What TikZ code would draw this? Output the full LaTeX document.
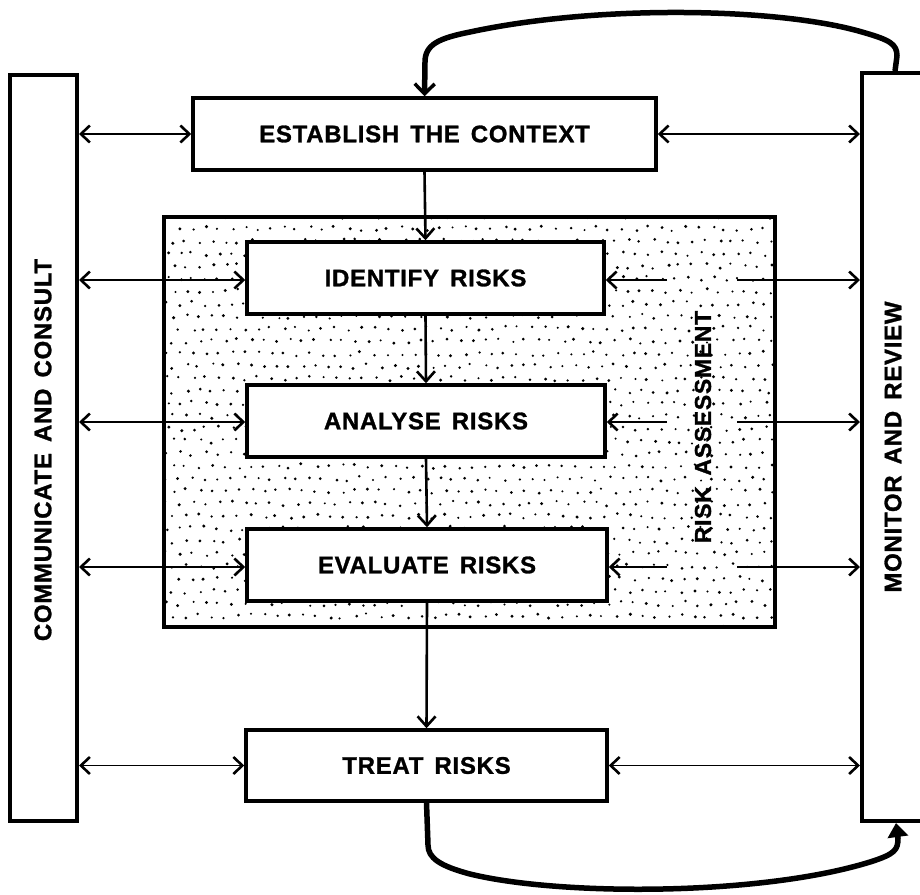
\documentclass[tikz,border=0pt]{standalone}
\usepackage{fontspec}
\setmainfont{Liberation Sans}
\newfontfamily\labelfont[LetterSpace=3.0,WordSpace=1.5,BoldFeatures={FakeBold=1.2}]{Liberation Sans}
\usetikzlibrary{arrows.meta}

\tikzset{
  stagebox/.style={draw, line width=3.5pt, fill=white, inner sep=0pt,
    font=\labelfont\fontsize{24}{28}\selectfont\bfseries},
  panel/.style={draw, line width=4pt, fill=white, inner sep=0pt},
  paneltext/.style={rotate=90, font=\labelfont\fontsize{24}{28}\selectfont\bfseries},
  twoway/.style={line width=2.8pt,
    {Straight Barb[length=9pt,width=17pt,line width=2.6pt]}-{Straight Barb[length=9pt,width=17pt,line width=2.6pt]}},
  oneway/.style={line width=2.8pt, -{Straight Barb[length=9pt,width=17pt,line width=2.6pt]}},
  flow/.style={line width=2.6pt, -{Straight Barb[length=10pt,width=18pt,line width=2.6pt]}},
  loopline/.style={line width=5.5pt, line join=round},
}

\begin{document}
\begin{tikzpicture}[x=1pt,y=-1pt]
\useasboundingbox (0,0) rectangle (920,894);

% side panels
\node[panel, minimum width=67pt, minimum height=746pt] (comm) at (43.5,447.5) {};
\node[paneltext] (commtext) at (43,450) {COMMUNICATE AND CONSULT};
\node[panel, minimum width=70pt, minimum height=748pt] (mon) at (897,447) {};
\node[paneltext] (montext) at (893,447) {MONITOR AND REVIEW};

% risk assessment area, dotted
\begin{scope}
\clip (164,217) rectangle (775,627);
\pgfmathsetseed{12}
\foreach \i in {0,...,47}
  \foreach \j in {0,...,33}
    \fill ({160+\i*13+mod(\j,2)*6.5+rand*2.5},{216+\j*12.5+rand*2.5}) circle ({1.1+0.6*rnd});
\end{scope}
\draw[line width=3.5pt] (164,217) rectangle (775,627);
\node[paneltext, font=\labelfont\fontsize{23}{26}\selectfont\bfseries] (ratext) at (703,427) {RISK ASSESSMENT};

% stages
\node[stagebox, minimum width=463pt, minimum height=72pt] (est) at (424.5,134) {ESTABLISH THE CONTEXT};
\node[stagebox, minimum width=357pt, minimum height=72pt] (ide) at (425.5,278) {IDENTIFY RISKS};
\node[stagebox, minimum width=358pt, minimum height=72pt] (ana) at (426,421) {ANALYSE RISKS};
\node[stagebox, minimum width=360pt, minimum height=72pt] (eva) at (427,565) {EVALUATE RISKS};
\node[stagebox, minimum width=361pt, minimum height=71pt] (tre) at (426.5,765.5) {TREAT RISKS};

% gaps round the risk assessment label
\coordinate (ideL) at (667,280);
\coordinate (ideR) at (737,280);
\coordinate (anaL) at (667,422);
\coordinate (anaR) at (737,422);
\coordinate (evaL) at (667,567);
\coordinate (evaR) at (737,567);

% main flow
\draw[flow] (est.south) -- (ide.north);
\draw[flow] (ide.south) -- (ana.north);
\draw[flow] (ana.south) -- (eva.north);
\draw[flow] (eva.south) -- (tre.north);

% communicate and consult
\draw[twoway] (comm.east |- est) -- (est.west);
\draw[twoway] (comm.east |- ideL) -- (ide.west |- ideL);
\draw[twoway] (comm.east |- anaL) -- (ana.west |- anaL);
\draw[twoway] (comm.east |- evaL) -- (eva.west |- evaL);
\draw[twoway, line width=1.6pt] (comm.east |- tre) -- (tre.west);

% monitor and review
\draw[twoway] (est.east) -- (mon.west |- est);
\draw[oneway] (ideL) -- (ide.east |- ideL);
\draw[oneway] (ideR) -- (mon.west |- ideR);
\draw[oneway] (anaL) -- (ana.east |- anaL);
\draw[oneway] (anaR) -- (mon.west |- anaR);
\draw[oneway] (evaL) -- (eva.east |- evaL);
\draw[oneway] (evaR) -- (mon.west |- evaR);
\draw[twoway, line width=1.6pt] (tre.east) -- (mon.west |- tre);

% loops
\draw[loopline, -{Straight Barb[length=10pt,width=20pt,line width=3.5pt]}]
  ([xshift=35pt]mon.north west) -- (897,56)
  .. controls (897,44) and (890,40) .. (862,32)
  .. controls (780,8) and (600,4) .. (470,32)
  .. controls (440,38) and (425,44) .. (425,62) -- (est.north);
\draw[loopline, -{Triangle[length=14pt,width=20pt]}]
  (tre.south) -- (428,845)
  .. controls (428,858) and (440,866) .. (470,874)
  .. controls (560,896) and (760,896) .. (870,862)
  .. controls (895,854) and (898,850) .. (898,838) -- ([xshift=36pt]mon.south west);
\end{tikzpicture}
\end{document}
